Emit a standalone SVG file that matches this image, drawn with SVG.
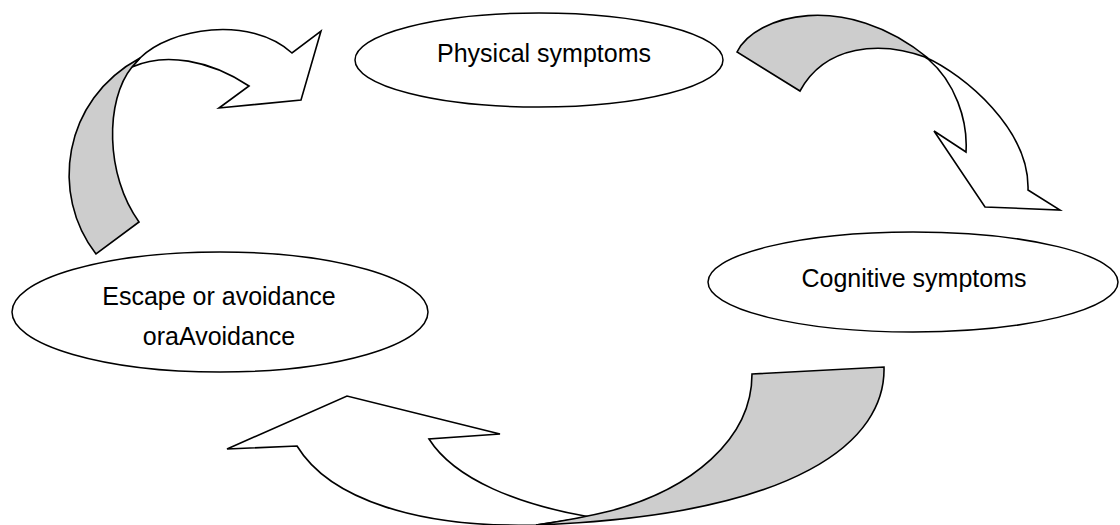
<svg xmlns="http://www.w3.org/2000/svg" width="1120" height="525" viewBox="0 0 1120 525">
<style>
.n{fill:#fff;stroke:#000;stroke-width:1.5}
.t{font-family:"Liberation Sans",Arial,sans-serif;font-size:25px;fill:#000;text-anchor:middle}
.w{fill:#fff;stroke:#000;stroke-width:1.6;stroke-linejoin:miter}
.g{fill:#cdcdcd;stroke:#000;stroke-width:1.6;stroke-linejoin:miter}
</style>
<rect width="1120" height="525" fill="#fff"/>
<g id="connectors">
<g id="arrow-escape-physical">
<path class="w" d="M140,58 C170,28 250,15 292,53 L321,31 L301,100 L219,108 L249,86 C210,60 165,52 132,67 Z"/>
<path class="g" d="M96,254 C50,195 62,100 140,58 L132,67 C105,100 105,175 139,222 Z"/>
</g>
<g id="arrow-physical-cognitive">
<path class="w" d="M925,57 C965,75 1030,130 1028,190 L1060,210 L985,207 L934,131 L966,152 C968,120 955,82 928,59 Z"/>
<path class="g" d="M737,52 C755,15 845,-10 928,58 C880,40 825,45 800,91 Z"/>
</g>
<g id="arrow-cognitive-escape">
<path class="w" d="M590,517 C520,505 455,480 429,439 L500,434 L347,396 L227,449 L297,446 C330,500 420,528 536,525 Z"/>
<path class="g" d="M752,374 L884,367 C886,440 800,515 536,525 C570,520 590,516 610,511 C690,490 752,440 752,374 Z"/>
</g>
</g>
<g id="node-physical">
<ellipse class="n" cx="539" cy="60" rx="184" ry="47"/>
<text class="t" x="544" y="62">Physical symptoms</text>
</g>
<g id="node-cognitive">
<ellipse class="n" cx="913" cy="282" rx="205" ry="50"/>
<text class="t" x="914" y="287">Cognitive symptoms</text>
</g>
<g id="node-escape">
<ellipse class="n" cx="220" cy="312" rx="208" ry="60"/>
<text class="t" x="219" y="305">Escape or avoidance</text>
<text class="t" x="219" y="345">oraAvoidance</text>
</g>
</svg>
